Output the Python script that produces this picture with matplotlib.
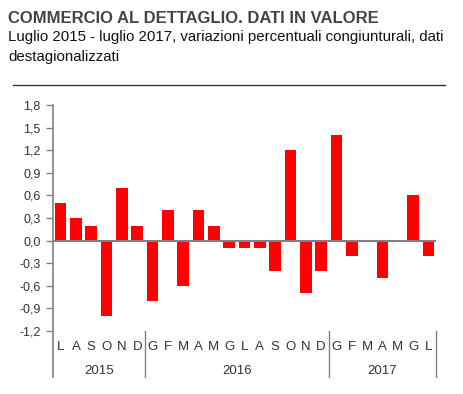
import matplotlib
matplotlib.use('Agg')
import matplotlib.pyplot as plt
from matplotlib.lines import Line2D
import matplotlib.transforms as mtransforms

plt.rcParams['font.family'] = ['Liberation Sans', 'DejaVu Sans']

# ── Data ──────────────────────────────────────────────────────────────
months = ['L', 'A', 'S', 'O', 'N', 'D',
          'G', 'F', 'M', 'A', 'M', 'G', 'L', 'A', 'S', 'O', 'N', 'D',
          'G', 'F', 'M', 'A', 'M', 'G', 'L']
values = [0.5, 0.3, 0.2, -1.0, 0.7, 0.2,
          -0.8, 0.4, -0.6, 0.4, 0.2, -0.1, -0.1, -0.1, -0.4, 1.2, -0.7, -0.4,
          1.4, -0.2, 0.0, -0.5, 0.0, 0.6, -0.2]
years = ['2015', '2016', '2017']
year_counts = [6, 12, 7]
yticks = [-1.2, -0.9, -0.6, -0.3, 0.0, 0.3, 0.6, 0.9, 1.2, 1.5, 1.8]

RED = '#ff0000'
GRAY = '#808080'
TXT = '#333333'

W, H = 464, 394
fig = plt.figure(figsize=(W / 100, H / 100), dpi=100)
fig.patch.set_facecolor('white')

# titles
fig.text(8 / W, 1 - 23 / H, 'COMMERCIO AL DETTAGLIO. DATI IN VALORE',
         fontsize=12, fontweight='bold', color='#444444', va='baseline')
fig.text(8 / W, 1 - 41 / H,
         'Luglio 2015 - luglio 2017, variazioni percentuali congiunturali, dati',
         fontsize=10.8, color='#111111', va='baseline')
fig.text(8 / W, 1 - 61 / H, 'destagionalizzati',
         fontsize=10.8, color='#111111', va='baseline')
fig.add_artist(Line2D([13 / W, 445 / W], [1 - 85 / H, 1 - 85 / H],
                      color='#333333', lw=1.0))

# axes
left, right, top, bottom = 53, 436, 105, 331
ax = fig.add_axes([left / W, 1 - bottom / H, (right - left) / W, (bottom - top) / H])
x = list(range(len(values)))
ax.bar(x, values, width=0.76, color=RED, zorder=2)
ax.axhline(0, color=GRAY, lw=1.5, zorder=3)
ax.set_xlim(-0.5, len(values) - 0.5)
ax.set_ylim(-1.2, 1.8)
ax.set_yticks(yticks)
ax.set_yticklabels([f'{v:.1f}'.replace('.', ',') for v in yticks],
                   fontsize=9, color=TXT)
ax.tick_params(axis='y', length=5, width=1, color=GRAY, pad=4)
ax.set_xticks([])
for s in ['top', 'right', 'bottom', 'left']:
    ax.spines[s].set_visible(False)

trans = mtransforms.blended_transform_factory(ax.transData, ax.transAxes)
ax_h = bottom - top
low = -46 / ax_h

# left spine extended down
ax.add_line(Line2D([-0.5, -0.5], [1, low], transform=trans, color=GRAY,
                   lw=1.2, clip_on=False))

for i, m in enumerate(months):
    ax.text(i, -16 / ax_h, m, transform=trans, ha='center', va='center',
            fontsize=9.5, color=TXT)

start = 0
for yr, n in zip(years, year_counts):
    ax.text(start + (n - 1) / 2, -40 / ax_h, yr, transform=trans,
            ha='center', va='center', fontsize=9.5, color=TXT)
    end = start + n - 0.5
    ax.add_line(Line2D([end, end], [0, low], transform=trans, color=GRAY,
                       lw=1.0, clip_on=False))
    start += n

fig.savefig('out.png', dpi=100, facecolor='white')
